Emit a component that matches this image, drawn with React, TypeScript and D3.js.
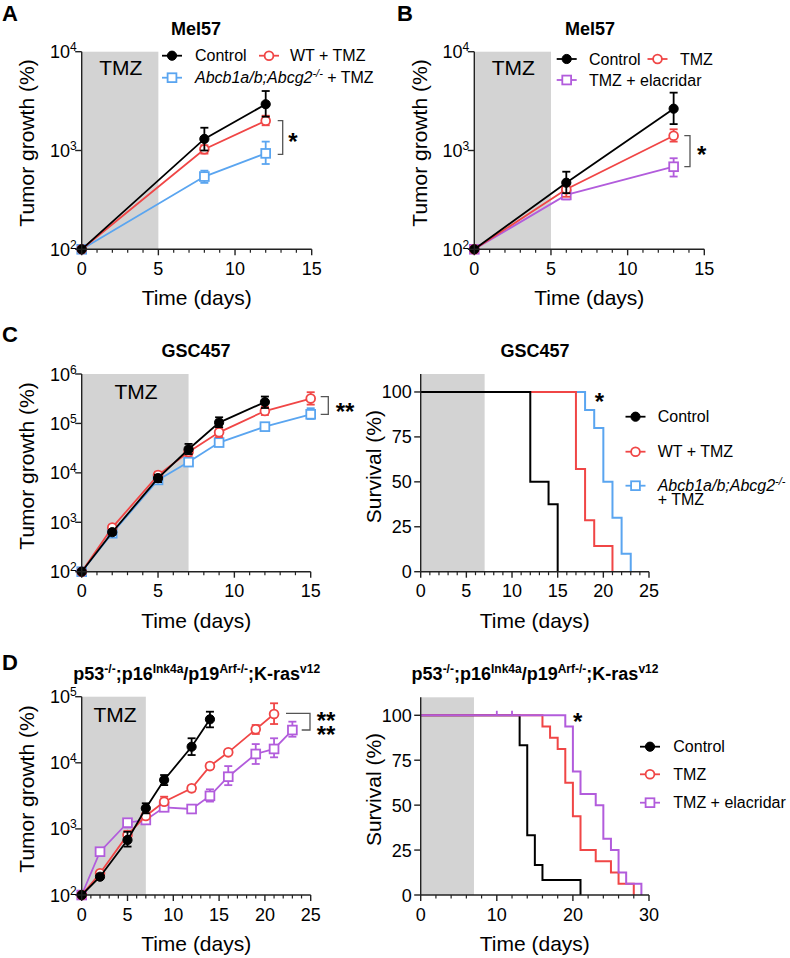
import React from 'react';
import * as d3 from 'd3';

const FONT = '"Liberation Sans", Arial, sans-serif';
const BLACK = '#000000';
const RED = '#F04646';
const BLUE = '#5AA5F0';
const PURPLE = '#B25CDC';
const SHADE = '#D3D3D3';
const AXIS = '#222222';

// ---------- Panel A (Mel57, knockout) ----------
const aDays = [0, 8, 12];
const aControl = [100, 1310, 2940];
const aControlLo = [100, 1000, 2200];
const aControlHi = [100, 1700, 4000];
const aWT = [100, 1030, 2000];
const aWTLo = [100, 930, 1800];
const aWTHi = [100, 1130, 2250];
const aKO = [100, 545, 935];
const aKOLo = [100, 470, 730];
const aKOHi = [100, 625, 1230];

// ---------- Panel B (Mel57, elacridar) ----------
const bDays = [0, 6, 13];
const bControl = [100, 472, 2650];
const bControlLo = [100, 370, 1850];
const bControlHi = [100, 610, 3850];
const bTMZ = [100, 405, 1410];
const bTMZLo = [100, 340, 1230];
const bTMZHi = [100, 470, 1640];
const bEla = [100, 355, 685];
const bElaLo = [100, 320, 545];
const bElaHi = [100, 395, 835];

// ---------- Panel C growth (GSC457) ----------
const cControlDays = [0, 2, 5, 7, 9, 12];
const cControl = [100, 630, 7800, 30000, 104000, 270000];
const cControlLo = [100, 560, 6500, 24000, 84000, 205000];
const cControlHi = [100, 700, 9200, 38500, 133000, 350000];
const cDays = [0, 2, 5, 7, 9, 12, 15];
const cWT = [100, 780, 9000, 26500, 66000, 178000, 318000];
const cWTLo = [100, 690, 7800, 22000, 53000, 148000, 240000];
const cWTHi = [100, 880, 10500, 32000, 82000, 218000, 428000];
const cKO = [100, 600, 7200, 16500, 41000, 86000, 153000];
const cKOLo = [100, 540, 6400, 14800, 37000, 77000, 123000];
const cKOHi = [100, 670, 8100, 18500, 45000, 96000, 203000];

// ---------- Panel C survival ----------
const cSurvControlT = [0, 12, 14, 15];
const cSurvControlS = [100, 50, 37.5, 0];
const cSurvWTT = [0, 17, 18, 19, 21];
const cSurvWTS = [100, 57.1, 28.6, 14.3, 0];
const cSurvKOT = [0, 18, 19, 20, 21, 22, 23];
const cSurvKOS = [100, 90, 80, 50, 30, 10, 0];

// ---------- Panel D growth ----------
const dControlDays = [0, 2, 5, 7, 9, 12, 14];
const dControl = [100, 189, 680, 2050, 5500, 17500, 45500];
const dControlLo = [100, 175, 540, 1720, 4600, 13100, 34400];
const dControlHi = [100, 205, 905, 2440, 6530, 23500, 59300];
const dTMZDays = [0, 2, 5, 7, 9, 12, 14, 16, 19, 21];
const dTMZ = [100, 213, 810, 1570, 2580, 4110, 8920, 14400, 32100, 54700];
const dTMZLo = [100, 198, 700, 1420, 2300, 3700, 8100, 13200, 27300, 38600];
const dTMZHi = [100, 228, 930, 1720, 3070, 4500, 9800, 15700, 37300, 79500];
const dElaDays = [0, 2, 5, 7, 9, 12, 14, 16, 19, 21, 23];
const dEla = [100, 452, 1240, 1365, 2120, 2000, 3160, 6160, 13600, 16200, 31300];
const dElaLo = [100, 420, 1050, 1250, 1900, 1800, 2590, 4590, 9600, 12100, 24800];
const dElaHi = [100, 490, 1400, 1500, 2350, 2200, 3970, 8920, 19200, 23500, 41900];

// ---------- Panel D survival ----------
const dSurvControlT = [0, 13, 14, 15, 16, 21];
const dSurvControlS = [100, 83.3, 33.3, 16.7, 8.3, 0];
const dSurvTMZT = [0, 16, 17, 18, 19, 20, 21, 23, 25, 26, 28];
const dSurvTMZS = [100, 93.75, 87.5, 81.25, 62.5, 43.75, 25, 18.75, 12.5, 6.25, 0];
const dSurvElaT = [0, 19, 20, 21, 23, 24, 25, 26, 27, 29];
const dSurvElaS = [100, 93.75, 68.75, 56.25, 50, 31.25, 25, 12.5, 6.25, 0];
const dSurvElaCensor = [10, 12];

const survTicks = [0, 25, 50, 75, 100];

function XAxis({ x, y0, xMax, majorStep, minorStep }: any) {
  const [r0, r1] = x.range();
  const majors = d3.range(0, xMax + 0.001, majorStep);
  const minors = d3.range(0, xMax + 0.001, minorStep).filter((v: number) => Math.abs(v / majorStep - Math.round(v / majorStep)) > 1e-6);
  return (
    <g>
      <line x1={r0} x2={r1} y1={y0} y2={y0} stroke={AXIS} strokeWidth={1.4} />
      {majors.map((v: number) => (
        <g key={'M' + v}>
          <line x1={x(v)} x2={x(v)} y1={y0} y2={y0 + 6} stroke={AXIS} strokeWidth={1.4} />
          <text x={x(v)} y={y0 + 25.5} textAnchor="middle" fontSize={18} fontFamily={FONT}>{v}</text>
        </g>
      ))}
      {minors.map((v: number) => (
        <line key={'m' + v} x1={x(v)} x2={x(v)} y1={y0} y2={y0 + 3.5} stroke={AXIS} strokeWidth={1.2} />
      ))}
    </g>
  );
}

function LogYAxis({ y, x0, exps }: any) {
  const [b, t] = y.range();
  return (
    <g>
      <line x1={x0} x2={x0} y1={b} y2={t} stroke={AXIS} strokeWidth={1.4} />
      {exps.map((e: number) => {
        const v = Math.pow(10, e);
        return (
          <g key={e}>
            <line x1={x0 - 6.5} x2={x0} y1={y(v)} y2={y(v)} stroke={AXIS} strokeWidth={1.4} />
            <text x={x0 - 5} y={y(v) + 6.5} textAnchor="end" fontSize={18} fontFamily={FONT}>
              10<tspan dy={-7} fontSize={12}>{e}</tspan>
            </text>
          </g>
        );
      })}
    </g>
  );
}

function LinYAxis({ y, x0, ticks }: any) {
  const [b, t] = y.range();
  return (
    <g>
      <line x1={x0} x2={x0} y1={b} y2={t} stroke={AXIS} strokeWidth={1.4} />
      {ticks.map((v: number) => (
        <g key={v}>
          <line x1={x0 - 6.5} x2={x0} y1={y(v)} y2={y(v)} stroke={AXIS} strokeWidth={1.4} />
          <text x={x0 - 9} y={y(v) + 6.5} textAnchor="end" fontSize={18} fontFamily={FONT}>{v}</text>
        </g>
      ))}
    </g>
  );
}

function Marker({ cx, cy, kind, color }: any) {
  if (kind === 'dot') return <circle cx={cx} cy={cy} r={4.6} fill={color} stroke={color} strokeWidth={1} />;
  if (kind === 'circle') return <circle cx={cx} cy={cy} r={4.4} fill="#fff" stroke={color} strokeWidth={1.8} />;
  return <rect x={cx - 4.4} y={cy - 4.4} width={8.8} height={8.8} fill="#fff" stroke={color} strokeWidth={1.8} />;
}

function Growth({ x, y, days, mean, lo, hi, color, kind }: any) {
  const pts = days.map((d: number, i: number) => [x(d), y(mean[i])] as [number, number]);
  const line = d3.line();
  return (
    <g>
      <path d={line(pts) || ''} fill="none" stroke={color} strokeWidth={1.8} />
      {days.map((d: number, i: number) =>
        hi[i] > lo[i] ? (
          <g key={'e' + i} stroke={color} strokeWidth={1.8}>
            <line x1={x(d)} x2={x(d)} y1={y(lo[i])} y2={y(hi[i])} />
            <line x1={x(d) - 4} x2={x(d) + 4} y1={y(hi[i])} y2={y(hi[i])} />
            <line x1={x(d) - 4} x2={x(d) + 4} y1={y(lo[i])} y2={y(lo[i])} />
          </g>
        ) : null
      )}
      {days.map((d: number, i: number) => (
        <Marker key={'m' + i} cx={x(d)} cy={y(mean[i])} kind={kind} color={color} />
      ))}
    </g>
  );
}

function Survival({ x, y, t, s, color }: any) {
  const pts = t.map((d: number, i: number) => [x(d), y(s[i])] as [number, number]);
  const line = d3.line().curve(d3.curveStepAfter);
  return <path d={line(pts) || ''} fill="none" stroke={color} strokeWidth={2} />;
}

function LegendItem({ x, y, color, kind }: any) {
  return (
    <g>
      <line x1={x - 10} x2={x + 10} y1={y} y2={y} stroke={color} strokeWidth={1.8} />
      <Marker cx={x} cy={y} kind={kind} color={color} />
    </g>
  );
}

function Shade({ x, y, until }: any) {
  const [b, t] = y.range();
  return <rect x={x(0)} y={t} width={x(until) - x(0)} height={b - t} fill={SHADE} />;
}

function AxisTitleX({ cx, y, children }: any) {
  return <text x={cx} y={y} textAnchor="middle" fontSize={21} fontFamily={FONT}>{children}</text>;
}
function AxisTitleY({ x, cy, children }: any) {
  return (
    <text transform={`translate(${x},${cy}) rotate(-90)`} textAnchor="middle" fontSize={21} fontFamily={FONT}>{children}</text>
  );
}

function Title({ cx, y, children }: any) {
  return <text x={cx} y={y} textAnchor="middle" fontSize={18} fontWeight="bold" fontFamily={FONT}>{children}</text>;
}

function Letter({ x, y, children }: any) {
  return <text x={x} y={y} fontSize={22} fontWeight="bold" fontFamily={FONT}>{children}</text>;
}

function Star({ x, y, children }: any) {
  return <text x={x} y={y} textAnchor="middle" fontSize={24} fontWeight="bold" fontFamily={FONT}>{children}</text>;
}

function KOLabel() {
  return (
    <>
      <tspan fontStyle="italic">Abcb1a/b;Abcg2</tspan>
      <tspan fontStyle="italic" dy={-6} fontSize={11}>-/-</tspan>
      <tspan dy={6}> + TMZ</tspan>
    </>
  );
}

function DTitle() {
  return (
    <>
      p53<tspan dy={-7} fontSize={12}>-/-</tspan>
      <tspan dy={7}>;p16</tspan>
      <tspan dy={-7} fontSize={12}>Ink4a</tspan>
      <tspan dy={7}>/p19</tspan>
      <tspan dy={-7} fontSize={12}>Arf-/-</tspan>
      <tspan dy={7}>;K-ras</tspan>
      <tspan dy={-7} fontSize={12}>v12</tspan>
    </>
  );
}

export default function App() {
  // Panel A scales
  const ax = d3.scaleLinear().domain([0, 15]).range([81.7, 311.7]);
  const ay = d3.scaleLog().domain([100, 1e4]).range([249.3, 51.7]);
  // Panel B
  const bx = d3.scaleLinear().domain([0, 15]).range([474.3, 704.3]);
  const by = d3.scaleLog().domain([100, 1e4]).range([249.3, 51.7]);
  // Panel C growth
  const cx = d3.scaleLinear().domain([0, 15]).range([81.7, 310.7]);
  const cy = d3.scaleLog().domain([100, 1e6]).range([571.7, 374]);
  // Panel C survival
  const csx = d3.scaleLinear().domain([0, 25]).range([420.7, 649]);
  const csy = d3.scaleLinear().domain([0, 110]).range([571.7, 374]);
  // Panel D growth
  const dx = d3.scaleLinear().domain([0, 25]).range([81.7, 310.7]);
  const dy = d3.scaleLog().domain([100, 1e5]).range([895, 696.7]);
  // Panel D survival
  const dsx = d3.scaleLinear().domain([0, 30]).range([420.7, 649]);
  const dsy = d3.scaleLinear().domain([0, 110]).range([895, 697.3]);

  const txt = (x: number, y: number, s: any, extra: any = {}) => (
    <text x={x} y={y} fontSize={16} fontFamily={FONT} {...extra}>{s}</text>
  );

  return (
    <svg width={790} height={958} style={{ position: 'absolute', left: 0, top: 0, background: '#fff' }} fontFamily={FONT}>
      <rect x={0} y={0} width={790} height={958} fill="#fff" />

      {/* ===== Panel A ===== */}
      <Letter x={2} y={21}>A</Letter>
      <Title cx={196} y={35}>Mel57</Title>
      <Shade x={ax} y={ay} until={5} />
      <text x={120.8} y={75} textAnchor="middle" fontSize={21} fontFamily={FONT}>TMZ</text>
      <Growth x={ax} y={ay} days={aDays} mean={aKO} lo={aKOLo} hi={aKOHi} color={BLUE} kind="square" />
      <Growth x={ax} y={ay} days={aDays} mean={aWT} lo={aWTLo} hi={aWTHi} color={RED} kind="circle" />
      <Growth x={ax} y={ay} days={aDays} mean={aControl} lo={aControlLo} hi={aControlHi} color={BLACK} kind="dot" />
      <XAxis x={ax} y0={249.3} xMax={15} majorStep={5} minorStep={1} />
      <LogYAxis y={ay} x0={81.7} exps={[2, 3, 4]} />
      <AxisTitleX cx={196.7} y={305}>Time (days)</AxisTitleX>
      <AxisTitleY x={34} cy={143}>Tumor growth (%)</AxisTitleY>
      <LegendItem x={172} y={55.7} color={BLACK} kind="dot" />
      {txt(195, 61.3, 'Control')}
      <LegendItem x={269} y={55.7} color={RED} kind="circle" />
      {txt(290, 61.3, 'WT + TMZ')}
      <LegendItem x={172} y={77.7} color={BLUE} kind="square" />
      <text x={195} y={83.3} fontSize={16} fontFamily={FONT}><KOLabel /></text>
      <path d="M277.7,120.7 H282.7 V154.3 H277.7" fill="none" stroke="#555" strokeWidth={1.3} />
      <Star x={293} y={149.5}>*</Star>

      {/* ===== Panel B ===== */}
      <Letter x={397} y={21}>B</Letter>
      <Title cx={590} y={35}>Mel57</Title>
      <Shade x={bx} y={by} until={5} />
      <text x={513.3} y={75} textAnchor="middle" fontSize={21} fontFamily={FONT}>TMZ</text>
      <Growth x={bx} y={by} days={bDays} mean={bEla} lo={bElaLo} hi={bElaHi} color={PURPLE} kind="square" />
      <Growth x={bx} y={by} days={bDays} mean={bTMZ} lo={bTMZLo} hi={bTMZHi} color={RED} kind="circle" />
      <Growth x={bx} y={by} days={bDays} mean={bControl} lo={bControlLo} hi={bControlHi} color={BLACK} kind="dot" />
      <XAxis x={bx} y0={249.3} xMax={15} majorStep={5} minorStep={1} />
      <LogYAxis y={by} x0={474.3} exps={[2, 3, 4]} />
      <AxisTitleX cx={589.3} y={305}>Time (days)</AxisTitleX>
      <AxisTitleY x={427} cy={143}>Tumor growth (%)</AxisTitleY>
      <LegendItem x={566.7} y={59} color={BLACK} kind="dot" />
      {txt(589, 64.6, 'Control')}
      <LegendItem x={657.5} y={59} color={RED} kind="circle" />
      {txt(680, 64.6, 'TMZ')}
      <LegendItem x={566.7} y={80} color={PURPLE} kind="square" />
      {txt(589, 85.6, 'TMZ + elacridar')}
      <path d="M684.3,135.7 H690 V166.7 H684.3" fill="none" stroke="#555" strokeWidth={1.3} />
      <Star x={701.7} y={162.5}>*</Star>

      {/* ===== Panel C growth ===== */}
      <Letter x={2} y={342}>C</Letter>
      <Title cx={196} y={357.3}>GSC457</Title>
      <Shade x={cx} y={cy} until={7} />
      <text x={136} y={399.3} textAnchor="middle" fontSize={21} fontFamily={FONT}>TMZ</text>
      <Growth x={cx} y={cy} days={cDays} mean={cKO} lo={cKOLo} hi={cKOHi} color={BLUE} kind="square" />
      <Growth x={cx} y={cy} days={cDays} mean={cWT} lo={cWTLo} hi={cWTHi} color={RED} kind="circle" />
      <Growth x={cx} y={cy} days={cControlDays} mean={cControl} lo={cControlLo} hi={cControlHi} color={BLACK} kind="dot" />
      <XAxis x={cx} y0={571.7} xMax={15} majorStep={5} minorStep={1} />
      <LogYAxis y={cy} x0={81.7} exps={[2, 3, 4, 5, 6]} />
      <AxisTitleX cx={196.2} y={627.5}>Time (days)</AxisTitleX>
      <AxisTitleY x={34} cy={466}>Tumor growth (%)</AxisTitleY>
      <path d="M320.7,396.7 H328.3 V414.3 H320.7" fill="none" stroke="#555" strokeWidth={1.3} />
      <Star x={345} y={420}>**</Star>

      {/* ===== Panel C survival ===== */}
      <Title cx={535} y={357.3}>GSC457</Title>
      <Shade x={csx} y={csy} until={7} />
      <Survival x={csx} y={csy} t={cSurvKOT} s={cSurvKOS} color={BLUE} />
      <Survival x={csx} y={csy} t={cSurvWTT} s={cSurvWTS} color={RED} />
      <Survival x={csx} y={csy} t={cSurvControlT} s={cSurvControlS} color={BLACK} />
      <XAxis x={csx} y0={571.7} xMax={25} majorStep={5} minorStep={1} />
      <LinYAxis y={csy} x0={420.7} ticks={survTicks} />
      <AxisTitleX cx={534.8} y={627.5}>Time (days)</AxisTitleX>
      <AxisTitleY x={381} cy={466.7}>Survival (%)</AxisTitleY>
      <Star x={599.3} y={409.5}>*</Star>
      <LegendItem x={635.5} y={416.7} color={BLACK} kind="dot" />
      {txt(657.7, 422.3, 'Control')}
      <LegendItem x={635.5} y={451.7} color={RED} kind="circle" />
      {txt(657.7, 457.3, 'WT + TMZ')}
      <LegendItem x={635.5} y={485.7} color={BLUE} kind="square" />
      <text x={657.7} y={491.3} fontSize={16} fontFamily={FONT}>
        <tspan fontStyle="italic">Abcb1a/b;Abcg2</tspan>
        <tspan fontStyle="italic" dy={-6} fontSize={11}>-/-</tspan>
        <tspan x={657.7} dy={20}>+ TMZ</tspan>
      </text>

      {/* ===== Panel D growth ===== */}
      <Letter x={2} y={670}>D</Letter>
      <Title cx={196.7} y={680}><DTitle /></Title>
      <Shade x={dx} y={dy} until={7} />
      <text x={115} y={721.7} textAnchor="middle" fontSize={21} fontFamily={FONT}>TMZ</text>
      <Growth x={dx} y={dy} days={dElaDays} mean={dEla} lo={dElaLo} hi={dElaHi} color={PURPLE} kind="square" />
      <Growth x={dx} y={dy} days={dTMZDays} mean={dTMZ} lo={dTMZLo} hi={dTMZHi} color={RED} kind="circle" />
      <Growth x={dx} y={dy} days={dControlDays} mean={dControl} lo={dControlLo} hi={dControlHi} color={BLACK} kind="dot" />
      <XAxis x={dx} y0={895} xMax={25} majorStep={5} minorStep={1} />
      <LogYAxis y={dy} x0={81.7} exps={[2, 3, 4, 5]} />
      <AxisTitleX cx={196.2} y={951}>Time (days)</AxisTitleX>
      <AxisTitleY x={34} cy={789}>Tumor growth (%)</AxisTitleY>
      <path d="M286,713.3 H310 V730 H301.7" fill="none" stroke="#555" strokeWidth={1.3} />
      <text x={326} y={729} textAnchor="middle" fontSize={24} fontWeight="bold" fontFamily={FONT}>
        <tspan x={326}>**</tspan>
        <tspan x={326} dy={13.5}>**</tspan>
      </text>

      {/* ===== Panel D survival ===== */}
      <Title cx={535} y={680}><DTitle /></Title>
      <Shade x={dsx} y={dsy} until={7} />
      <Survival x={dsx} y={dsy} t={dSurvControlT} s={dSurvControlS} color={BLACK} />
      <Survival x={dsx} y={dsy} t={dSurvTMZT} s={dSurvTMZS} color={RED} />
      <Survival x={dsx} y={dsy} t={dSurvElaT} s={dSurvElaS} color={PURPLE} />
      {dSurvElaCensor.map((c) => (
        <line key={c} x1={dsx(c)} x2={dsx(c)} y1={dsy(100) - 4.5} y2={dsy(100)} stroke={PURPLE} strokeWidth={1.8} />
      ))}
      <XAxis x={dsx} y0={895} xMax={30} majorStep={10} minorStep={2} />
      <LinYAxis y={dsy} x0={420.7} ticks={survTicks} />
      <AxisTitleX cx={534.8} y={951}>Time (days)</AxisTitleX>
      <AxisTitleY x={381} cy={789.5}>Survival (%)</AxisTitleY>
      <Star x={577.7} y={730}>*</Star>
      <LegendItem x={650} y={746.7} color={BLACK} kind="dot" />
      {txt(673.3, 752.3, 'Control')}
      <LegendItem x={650} y={774.3} color={RED} kind="circle" />
      {txt(673.3, 779.9, 'TMZ')}
      <LegendItem x={650} y={802.7} color={PURPLE} kind="square" />
      {txt(673.3, 808.3, 'TMZ + elacridar')}
    </svg>
  );
}
